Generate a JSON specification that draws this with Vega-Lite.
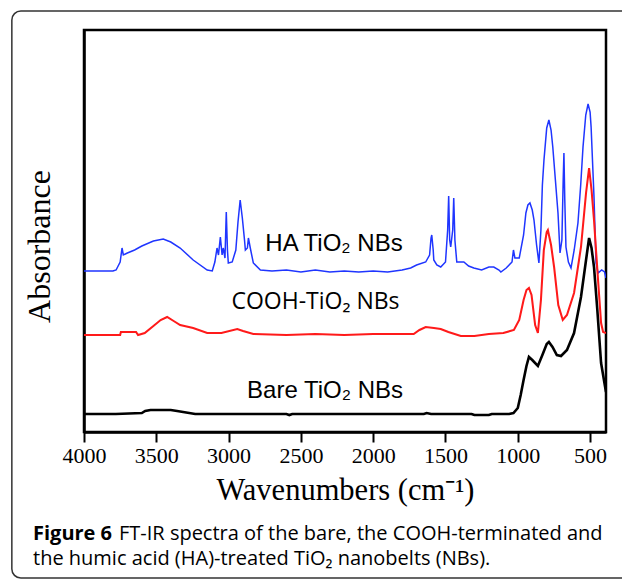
{
  "$schema": "https://vega.github.io/schema/vega-lite/v6.json",
  "width": 522,
  "height": 402,
  "autosize": "none",
  "padding": {"left": 84, "top": 30, "right": 16, "bottom": 147},
  "background": "white",
  "config": {
    "view": {"stroke": "black", "strokeWidth": 2.5},
    "axis": {"grid": false}
  },
  "title": {
    "text": "Figure 6",
    "subtitle": ["\u200b\u2003\u2003\u2003\u00a0\u00a0\u00a0\u00a0\u00a0FT-IR spectra of the bare, the COOH-terminated and", "the humic acid (HA)-treated TiO₂ nanobelts (NBs)."],
    "orient": "bottom",
    "anchor": "start",
    "frame": "group",
    "dx": -51,
    "offset": -55,
    "font": "Open Sans",
    "fontSize": 20,
    "fontWeight": "bold",
    "color": "black",
    "subtitleFont": "Open Sans",
    "subtitleFontSize": 20,
    "subtitleFontWeight": "normal",
    "subtitleColor": "black",
    "subtitleLineHeight": 25,
    "subtitlePadding": -20
  },
  "datasets": {
    "spectra": [
      {"series":"HA","wn":4000,"a":161},{"series":"HA","wn":3800,"a":161},{"series":"HA","wn":3778,"a":162},{"series":"HA","wn":3750,"a":170},{"series":"HA","wn":3737,"a":184},{"series":"HA","wn":3728,"a":177},{"series":"HA","wn":3700,"a":179},{"series":"HA","wn":3650,"a":182},{"series":"HA","wn":3600,"a":186},{"series":"HA","wn":3520,"a":191},{"series":"HA","wn":3452,"a":193},{"series":"HA","wn":3400,"a":190},{"series":"HA","wn":3335,"a":184},{"series":"HA","wn":3245,"a":172},{"series":"HA","wn":3148,"a":162},{"series":"HA","wn":3113,"a":161},{"series":"HA","wn":3095,"a":170},{"series":"HA","wn":3080,"a":184},{"series":"HA","wn":3070,"a":177},{"series":"HA","wn":3057,"a":195},{"series":"HA","wn":3045,"a":177},{"series":"HA","wn":3037,"a":184},{"series":"HA","wn":3025,"a":174},{"series":"HA","wn":3016,"a":220},{"series":"HA","wn":3008,"a":182},{"series":"HA","wn":3002,"a":169},{"series":"HA","wn":2975,"a":170},{"series":"HA","wn":2950,"a":182},{"series":"HA","wn":2935,"a":210},{"series":"HA","wn":2920,"a":232},{"series":"HA","wn":2905,"a":214},{"series":"HA","wn":2890,"a":192},{"series":"HA","wn":2884,"a":182},{"series":"HA","wn":2870,"a":184},{"series":"HA","wn":2863,"a":194},{"series":"HA","wn":2850,"a":184},{"series":"HA","wn":2829,"a":169},{"series":"HA","wn":2780,"a":162},{"series":"HA","wn":2700,"a":161},{"series":"HA","wn":2600,"a":162},{"series":"HA","wn":2500,"a":160},{"series":"HA","wn":2400,"a":162},{"series":"HA","wn":2300,"a":160},{"series":"HA","wn":2200,"a":161},{"series":"HA","wn":2100,"a":160},{"series":"HA","wn":2000,"a":161},{"series":"HA","wn":1900,"a":160},{"series":"HA","wn":1800,"a":162},{"series":"HA","wn":1741,"a":164},{"series":"HA","wn":1700,"a":167},{"series":"HA","wn":1637,"a":170},{"series":"HA","wn":1610,"a":177},{"series":"HA","wn":1600,"a":194},{"series":"HA","wn":1595,"a":197},{"series":"HA","wn":1585,"a":182},{"series":"HA","wn":1581,"a":172},{"series":"HA","wn":1560,"a":167},{"series":"HA","wn":1533,"a":165},{"series":"HA","wn":1500,"a":170},{"series":"HA","wn":1485,"a":202},{"series":"HA","wn":1478,"a":236},{"series":"HA","wn":1471,"a":192},{"series":"HA","wn":1464,"a":185},{"series":"HA","wn":1450,"a":202},{"series":"HA","wn":1443,"a":234},{"series":"HA","wn":1435,"a":192},{"series":"HA","wn":1422,"a":170},{"series":"HA","wn":1373,"a":170},{"series":"HA","wn":1340,"a":166},{"series":"HA","wn":1304,"a":164},{"series":"HA","wn":1250,"a":162},{"series":"HA","wn":1200,"a":165},{"series":"HA","wn":1166,"a":165},{"series":"HA","wn":1130,"a":162},{"series":"HA","wn":1117,"a":160},{"series":"HA","wn":1080,"a":164},{"series":"HA","wn":1040,"a":170},{"series":"HA","wn":1030,"a":182},{"series":"HA","wn":1020,"a":174},{"series":"HA","wn":990,"a":174},{"series":"HA","wn":960,"a":197},{"series":"HA","wn":944,"a":219},{"series":"HA","wn":930,"a":227},{"series":"HA","wn":916,"a":229},{"series":"HA","wn":900,"a":222},{"series":"HA","wn":888,"a":212},{"series":"HA","wn":870,"a":187},{"series":"HA","wn":854,"a":169},{"series":"HA","wn":840,"a":202},{"series":"HA","wn":830,"a":247},{"series":"HA","wn":819,"a":272},{"series":"HA","wn":800,"a":304},{"series":"HA","wn":785,"a":312},{"series":"HA","wn":770,"a":302},{"series":"HA","wn":758,"a":285},{"series":"HA","wn":740,"a":252},{"series":"HA","wn":722,"a":219},{"series":"HA","wn":708,"a":179},{"series":"HA","wn":695,"a":192},{"series":"HA","wn":686,"a":252},{"series":"HA","wn":681,"a":279},{"series":"HA","wn":675,"a":232},{"series":"HA","wn":667,"a":185},{"series":"HA","wn":650,"a":170},{"series":"HA","wn":632,"a":164},{"series":"HA","wn":610,"a":182},{"series":"HA","wn":584,"a":209},{"series":"HA","wn":565,"a":247},{"series":"HA","wn":549,"a":285},{"series":"HA","wn":530,"a":317},{"series":"HA","wn":514,"a":328},{"series":"HA","wn":500,"a":320},{"series":"HA","wn":493,"a":305},{"series":"HA","wn":473,"a":235},{"series":"HA","wn":459,"a":169},{"series":"HA","wn":445,"a":159},{"series":"HA","wn":420,"a":162},{"series":"HA","wn":400,"a":160},{"series":"HA","wn":390,"a":154},
      {"series":"COOH","wn":4000,"a":97},{"series":"COOH","wn":3750,"a":97},{"series":"COOH","wn":3745,"a":100},{"series":"COOH","wn":3640,"a":100},{"series":"COOH","wn":3626,"a":97},{"series":"COOH","wn":3580,"a":99},{"series":"COOH","wn":3520,"a":106},{"series":"COOH","wn":3470,"a":112},{"series":"COOH","wn":3425,"a":115},{"series":"COOH","wn":3380,"a":111},{"series":"COOH","wn":3335,"a":107},{"series":"COOH","wn":3245,"a":104},{"series":"COOH","wn":3148,"a":99},{"series":"COOH","wn":3050,"a":99},{"series":"COOH","wn":2940,"a":103},{"series":"COOH","wn":2900,"a":101},{"series":"COOH","wn":2829,"a":98},{"series":"COOH","wn":2600,"a":97},{"series":"COOH","wn":2400,"a":98},{"series":"COOH","wn":2200,"a":97},{"series":"COOH","wn":2000,"a":98},{"series":"COOH","wn":1800,"a":98},{"series":"COOH","wn":1720,"a":98},{"series":"COOH","wn":1680,"a":102},{"series":"COOH","wn":1637,"a":105},{"series":"COOH","wn":1580,"a":104},{"series":"COOH","wn":1533,"a":103},{"series":"COOH","wn":1480,"a":100},{"series":"COOH","wn":1394,"a":96},{"series":"COOH","wn":1300,"a":96},{"series":"COOH","wn":1200,"a":98},{"series":"COOH","wn":1100,"a":99},{"series":"COOH","wn":1027,"a":102},{"series":"COOH","wn":990,"a":112},{"series":"COOH","wn":960,"a":132},{"series":"COOH","wn":940,"a":142},{"series":"COOH","wn":923,"a":144},{"series":"COOH","wn":905,"a":137},{"series":"COOH","wn":880,"a":107},{"series":"COOH","wn":861,"a":99},{"series":"COOH","wn":840,"a":132},{"series":"COOH","wn":820,"a":182},{"series":"COOH","wn":800,"a":200},{"series":"COOH","wn":792,"a":202},{"series":"COOH","wn":770,"a":187},{"series":"COOH","wn":749,"a":165},{"series":"COOH","wn":720,"a":127},{"series":"COOH","wn":689,"a":112},{"series":"COOH","wn":660,"a":117},{"series":"COOH","wn":611,"a":139},{"series":"COOH","wn":563,"a":185},{"series":"COOH","wn":528,"a":239},{"series":"COOH","wn":507,"a":264},{"series":"COOH","wn":490,"a":242},{"series":"COOH","wn":473,"a":212},{"series":"COOH","wn":445,"a":152},{"series":"COOH","wn":424,"a":109},{"series":"COOH","wn":410,"a":100},{"series":"COOH","wn":390,"a":99},
      {"series":"Bare","wn":4000,"a":18},{"series":"Bare","wn":3780,"a":18},{"series":"Bare","wn":3600,"a":19},{"series":"Bare","wn":3577,"a":21},{"series":"Bare","wn":3540,"a":22},{"series":"Bare","wn":3400,"a":22},{"series":"Bare","wn":3356,"a":21},{"series":"Bare","wn":3231,"a":18},{"series":"Bare","wn":3000,"a":18},{"series":"Bare","wn":2600,"a":18},{"series":"Bare","wn":2580,"a":17},{"series":"Bare","wn":2560,"a":18},{"series":"Bare","wn":2000,"a":18},{"series":"Bare","wn":1650,"a":18},{"series":"Bare","wn":1630,"a":19},{"series":"Bare","wn":1600,"a":18},{"series":"Bare","wn":1320,"a":18},{"series":"Bare","wn":1300,"a":17},{"series":"Bare","wn":1200,"a":17},{"series":"Bare","wn":1180,"a":18},{"series":"Bare","wn":1060,"a":18},{"series":"Bare","wn":1030,"a":19},{"series":"Bare","wn":1000,"a":24},{"series":"Bare","wn":980,"a":37},{"series":"Bare","wn":960,"a":52},{"series":"Bare","wn":940,"a":66},{"series":"Bare","wn":923,"a":75},{"series":"Bare","wn":900,"a":72},{"series":"Bare","wn":861,"a":66},{"series":"Bare","wn":830,"a":77},{"series":"Bare","wn":800,"a":88},{"series":"Bare","wn":785,"a":90},{"series":"Bare","wn":760,"a":85},{"series":"Bare","wn":730,"a":77},{"series":"Bare","wn":701,"a":76},{"series":"Bare","wn":660,"a":82},{"series":"Bare","wn":611,"a":99},{"series":"Bare","wn":563,"a":135},{"series":"Bare","wn":528,"a":172},{"series":"Bare","wn":507,"a":194},{"series":"Bare","wn":490,"a":184},{"series":"Bare","wn":473,"a":165},{"series":"Bare","wn":450,"a":122},{"series":"Bare","wn":424,"a":69},{"series":"Bare","wn":396,"a":45},{"series":"Bare","wn":390,"a":40}
    ],
    "labels": [
      {"series":"HA","wn":2271,"a":188,"label":"HA TiO₂ NBs"},
      {"series":"COOH","wn":2399,"a":130,"label":"COOH-TiO₂ NBs"},
      {"series":"Bare","wn":2333,"a":41,"label":"Bare TiO₂ NBs"}
    ],
    "frame": [
      {"x1":4499,"x2":150,"y1":421,"y2":-146}
    ]
  },
  "layer": [
    {
      "data": {"name": "frame"},
      "mark": {"type": "rect", "fill": null, "stroke": "#333333", "strokeWidth": 1.5, "cornerRadius": 9, "clip": false},
      "encoding": {
        "x": {"field": "x1", "type": "quantitative", "scale": {"domain": [4000, 390], "nice": false, "zero": false}},
        "x2": {"field": "x2"},
        "y": {"field": "y1", "type": "quantitative", "scale": {"domain": [0, 402], "nice": false, "zero": false}},
        "y2": {"field": "y2"}
      }
    },
    {
      "data": {"name": "spectra"},
      "mark": {"type": "line", "interpolate": "linear", "clip": true},
      "encoding": {
        "x": {
          "field": "wn", "type": "quantitative",
          "scale": {"domain": [4000, 390], "nice": false, "zero": false},
          "axis": {
            "values": [4000, 3750, 3500, 3250, 3000, 2750, 2500, 2250, 2000, 1750, 1500, 1250, 1000, 750, 500],
            "labelExpr": "datum.value % 500 === 0 ? datum.value : ''",
            "tickSize": {"expr": "datum.value % 500 === 0 ? 10 : 5"},
            "tickWidth": 2,
            "tickColor": "black",
            "domainColor": "black",
            "domainWidth": 2.5,
            "labelFont": "Liberation Serif",
            "labelFontSize": 22,
            "labelColor": "black",
            "labelPadding": 3,
            "labelFlush": false,
            "labelOverlap": false,
            "title": "Wavenumbers (cm⁻¹)",
            "titleFont": "Liberation Serif",
            "titleFontSize": 30.5,
            "titleFontWeight": "normal",
            "titleColor": "black",
            "titlePadding": 9
          }
        },
        "y": {
          "field": "a", "type": "quantitative",
          "scale": {"domain": [0, 402], "nice": false, "zero": false},
          "axis": {
            "labels": false, "ticks": false,
            "domainColor": "black", "domainWidth": 2.5,
            "title": "Absorbance",
            "titleFont": "Liberation Serif",
            "titleFontSize": 32,
            "titleFontWeight": "normal",
            "titleColor": "black",
            "titlePadding": 28,
            "titleY": 216
          }
        },
        "color": {"field": "series", "type": "nominal", "scale": {"domain": ["HA", "COOH", "Bare"], "range": ["#1f35ff", "#ff1a1a", "#000000"]}, "legend": null},
        "strokeWidth": {"field": "series", "type": "nominal", "scale": {"domain": ["HA", "COOH", "Bare"], "range": [1.5, 2.6, 2.6]}, "legend": null},
        "order": {"field": "wn", "type": "quantitative", "sort": "descending"}
      }
    },
    {
      "data": {"name": "labels"},
      "transform": [{"filter": "datum.series !== 'COOH'"}],
      "mark": {"type": "text", "font": "Liberation Sans", "fontSize": 24, "color": "black", "align": "center", "baseline": "middle"},
      "encoding": {
        "x": {"field": "wn", "type": "quantitative"},
        "y": {"field": "a", "type": "quantitative"},
        "text": {"field": "label"}
      }
    },
    {
      "data": {"name": "labels"},
      "transform": [{"filter": "datum.series === 'COOH'"}],
      "mark": {"type": "text", "font": "Open Sans", "fontSize": 23, "color": "black", "align": "center", "baseline": "middle"},
      "encoding": {
        "x": {"field": "wn", "type": "quantitative"},
        "y": {"field": "a", "type": "quantitative"},
        "text": {"field": "label"}
      }
    }
  ]
}
